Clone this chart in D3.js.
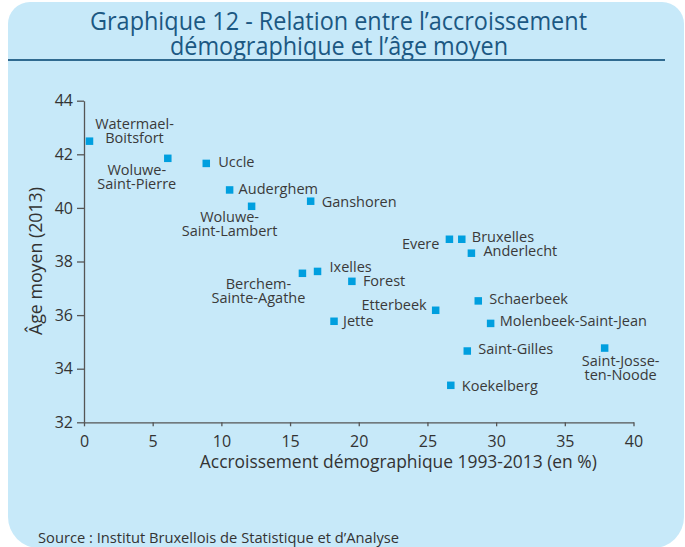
<!DOCTYPE html>
<html>
<head>
<meta charset="utf-8">
<script src="https://d3js.org/d3.v7.min.js"></script>
<style>
  body { margin: 0; background: #fff; }
  svg text { font-family: "Open Sans", "DejaVu Sans", sans-serif; }
</style>
</head>
<body>
<svg id="chart" width="685" height="547"></svg>
<script>
  // values
  const communes = [
    "Watermael-Boitsfort", "Woluwe-Saint-Pierre", "Uccle", "Auderghem",
    "Woluwe-Saint-Lambert", "Ganshoren", "Evere", "Bruxelles", "Anderlecht",
    "Berchem-Sainte-Agathe", "Ixelles", "Forest", "Etterbeek", "Jette",
    "Schaerbeek", "Molenbeek-Saint-Jean", "Saint-Gilles", "Saint-Josse-ten-Noode",
    "Koekelberg"
  ];
  const growth = [0.4, 6.1, 8.9, 10.6, 12.2, 16.5, 26.6, 27.5, 28.2,
    15.9, 17.0, 19.5, 25.6, 18.2, 28.7, 29.6, 27.9, 37.9, 26.7];
  const meanAge = [42.49, 41.85, 41.66, 40.67, 40.06, 40.25, 38.83, 38.83, 38.31,
    37.56, 37.63, 37.26, 36.18, 35.77, 36.53, 35.69, 34.66, 34.77, 33.38];
  const xTicks = [0, 5, 10, 15, 20, 25, 30, 35, 40];
  const yTicks = [32, 34, 36, 38, 40, 42, 44];

  const titleLines = ["Graphique 12 - Relation entre l\u2019accroissement",
    "d\u00e9mographique et l\u2019\u00e2ge moyen"];
  const xTitle = "Accroissement d\u00e9mographique 1993-2013 (en %)";
  const yTitle = "\u00c2ge moyen (2013)";
  const source = "Source : Institut Bruxellois de Statistique et d\u2019Analyse";

  // label placement next to each square (dx, dy of first baseline, anchor, break after n-th hyphen)
  const labelPlacement = {
    "Watermael-Boitsfort": { dx: 45, dy: -12, anchor: "middle", brk: 1 },
    "Woluwe-Saint-Pierre": { dx: -31, dy: 17, anchor: "middle", brk: 1 },
    "Uccle": { dx: 12, dy: 4, anchor: "start" },
    "Auderghem": { dx: 9, dy: 4, anchor: "start" },
    "Woluwe-Saint-Lambert": { dx: -22, dy: 16, anchor: "middle", brk: 1 },
    "Ganshoren": { dx: 11, dy: 6, anchor: "start" },
    "Evere": { dx: -10, dy: 10, anchor: "end" },
    "Bruxelles": { dx: 10, dy: 3, anchor: "start" },
    "Anderlecht": { dx: 12, dy: 3, anchor: "start" },
    "Berchem-Sainte-Agathe": { dx: -44, dy: 16, anchor: "middle", brk: 1 },
    "Ixelles": { dx: 12, dy: 1, anchor: "start" },
    "Forest": { dx: 11, dy: 5, anchor: "start" },
    "Etterbeek": { dx: -9, dy: 0, anchor: "end" },
    "Jette": { dx: 9, dy: 5, anchor: "start" },
    "Schaerbeek": { dx: 11, dy: 3, anchor: "start" },
    "Molenbeek-Saint-Jean": { dx: 9, dy: 3, anchor: "start" },
    "Saint-Gilles": { dx: 11, dy: 3, anchor: "start" },
    "Saint-Josse-ten-Noode": { dx: 16, dy: 18, anchor: "middle", brk: 2 },
    "Koekelberg": { dx: 11, dy: 6, anchor: "start" }
  };

  const svg = d3.select("#chart");
  const textColor = "#3a3a3a";
  const axisColor = "#555";

  // background panel, small radius on top, larger on bottom
  const px0 = 8, py0 = 2, px1 = 684, py1 = 548, rt = 22, rb = 31;
  svg.append("path")
    .attr("d", `M${px0 + rt},${py0} H${px1 - rt} A${rt},${rt} 0 0 1 ${px1},${py0 + rt}
      V${py1 - rb} A${rb},${rb} 0 0 1 ${px1 - rb},${py1} H${px0 + rb}
      A${rb},${rb} 0 0 1 ${px0},${py1 - rb} V${py0 + rt} A${rt},${rt} 0 0 1 ${px0 + rt},${py0} Z`)
    .attr("fill", "#c7e9f9");

  // title
  svg.append("text")
    .attr("x", 338.5).attr("y", 30)
    .attr("text-anchor", "middle")
    .attr("font-size", 25)
    .attr("fill", "#1b5883")
    .attr("textLength", 497).attr("lengthAdjust", "spacingAndGlyphs")
    .text(titleLines[0]);
  svg.append("text")
    .attr("x", 339).attr("y", 55)
    .attr("text-anchor", "middle")
    .attr("font-size", 25)
    .attr("fill", "#1b5883")
    .attr("textLength", 338).attr("lengthAdjust", "spacingAndGlyphs")
    .text(titleLines[1]);
  svg.append("line")
    .attr("x1", 8).attr("x2", 665).attr("y1", 60).attr("y2", 60)
    .attr("stroke", "#2f6a90").attr("stroke-width", 2);

  // scales
  const x = d3.scaleLinear().domain([0, 40]).range([84, 633.5]);
  const y = d3.scaleLinear().domain([32, 44]).range([422.3, 100.7]);

  const xAxis = svg.append("g")
    .attr("transform", `translate(0,${y(32)})`)
    .call(d3.axisBottom(x).tickValues(xTicks).tickSize(4).tickSizeOuter(0).tickPadding(9));
  const yAxis = svg.append("g")
    .attr("transform", `translate(${x(0)},0)`)
    .call(d3.axisLeft(y).tickValues(yTicks).tickSize(7).tickSizeOuter(0).tickPadding(4));

  [xAxis, yAxis].forEach(g => {
    g.select(".domain").attr("stroke", axisColor).attr("stroke-width", 1.3);
    g.selectAll(".tick line").attr("stroke", axisColor).attr("stroke-width", 1.3);
    g.selectAll(".tick text")
      .attr("fill", "#333")
      .style("font-family", "'Open Sans', sans-serif")
      .style("font-size", "16px");
  });
  xAxis.selectAll(".tick text").attr("dy", "0.71em");

  // axis titles
  svg.append("text")
    .attr("x", 398.3).attr("y", 468)
    .attr("text-anchor", "middle")
    .attr("font-size", 18).attr("fill", "#333")
    .attr("textLength", 397).attr("lengthAdjust", "spacingAndGlyphs")
    .text(xTitle);
  svg.append("text")
    .attr("transform", `translate(42,261) rotate(-90)`)
    .attr("text-anchor", "middle")
    .attr("font-size", 18).attr("fill", "#333")
    .attr("textLength", 148).attr("lengthAdjust", "spacingAndGlyphs")
    .text(yTitle);

  // points
  const points = communes.map((name, i) => ({ name, gx: growth[i], age: meanAge[i] }));
  const sq = 7.5;

  svg.append("g").selectAll("rect")
    .data(points)
    .join("rect")
    .attr("x", d => x(d.gx) - sq / 2)
    .attr("y", d => y(d.age) - sq / 2)
    .attr("width", sq).attr("height", sq)
    .attr("fill", "#009fdf");

  // labels
  function splitName(name, brk) {
    if (!brk) return [name];
    let idx = -1;
    for (let k = 0; k < brk; k++) idx = name.indexOf("-", idx + 1);
    return [name.slice(0, idx + 1), name.slice(idx + 1)];
  }

  const labels = svg.append("g").selectAll("text")
    .data(points)
    .join("text")
    .attr("text-anchor", d => labelPlacement[d.name].anchor)
    .attr("font-size", 14.5)
    .attr("fill", textColor);

  labels.each(function (d) {
    const p = labelPlacement[d.name];
    const lines = splitName(d.name, p.brk);
    d3.select(this).selectAll("tspan")
      .data(lines)
      .join("tspan")
      .attr("x", x(d.gx) + p.dx)
      .attr("y", (l, j) => y(d.age) + p.dy + j * 14)
      .text(l => l);
  });

  // source
  svg.append("text")
    .attr("x", 38).attr("y", 543)
    .attr("font-size", 14).attr("fill", "#333")
    .attr("textLength", 361).attr("lengthAdjust", "spacingAndGlyphs")
    .text(source);
</script>
</body>
</html>
